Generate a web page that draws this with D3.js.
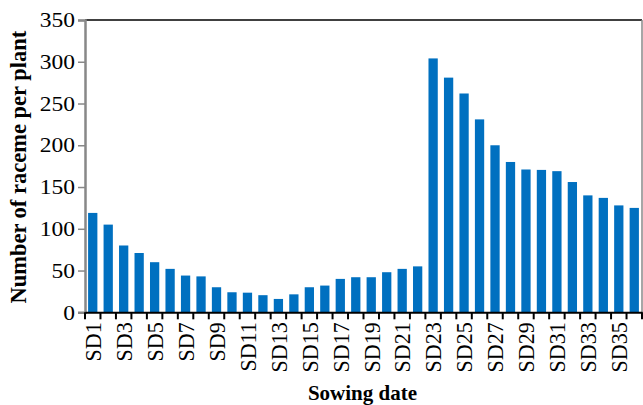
<!DOCTYPE html>
<html><head><meta charset="utf-8">
<script src="https://cdn.jsdelivr.net/npm/d3@7"></script>
<style>body{margin:0;background:#fff}svg{display:block}svg text{font-family:'Liberation Serif','Times New Roman',serif}</style>
</head><body>
<svg id="c" width="643" height="405"></svg>
<script>
const categories = Array.from({length:36},(_,i)=>"SD"+(i+1));
const values = [119,105,80,71,60,52,44,43,30,24,23.5,20.5,16,21.5,30,32,40,42,42,48,52,55,304,281,262,231,200,180,171,170.5,169,156,140,137,128,125];
const yTicks = [0,50,100,150,200,250,300,350];

const svg = d3.select("#c");
const L=85, R=642, T=20, B=312.3;
const x = d3.scaleBand().domain(categories).range([L,R]).paddingInner(0.4).paddingOuter(0.2);
const y = d3.scaleLinear().domain([0,350]).range([B,T]);
const font = "Liberation Serif";

// bars
svg.append("g").selectAll("rect").data(values).join("rect")
  .attr("x",(d,i)=>x(categories[i]))
  .attr("y",d=>y(d))
  .attr("width",x.bandwidth())
  .attr("height",d=>B-y(d))
  .attr("fill","#0070C0");

// top & right border
svg.append("line").attr("x1",L).attr("x2",R).attr("y1",T).attr("y2",T).attr("stroke","#000").attr("stroke-width",1.5);
svg.append("line").attr("x1",R).attr("x2",R).attr("y1",T).attr("y2",B).attr("stroke","#888").attr("stroke-width",1.5);

// y axis
const ya = svg.append("g").attr("transform",`translate(${L},0)`)
  .call(d3.axisLeft(y).tickValues(yTicks).tickSize(7).tickPadding(6));
ya.attr("font-family",font).attr("font-size",21);
ya.select(".domain").attr("stroke","#888").attr("stroke-width",2.5);
ya.selectAll(".tick line").attr("stroke","#888").attr("stroke-width",1.5);
ya.selectAll("text").style("font-family",font).attr("font-size",21).attr("fill","#000")
  .attr("x",0).attr("transform","translate(-10,0) scale(1.12,1)");

// x axis
const xa = svg.append("g").attr("transform",`translate(0,${B})`)
  .call(d3.axisBottom(x).tickSize(0).tickFormat((d,i)=> i%2===0 ? d : ""));
xa.attr("font-family",font).attr("font-size",22);
xa.select(".domain").attr("stroke","#000").attr("stroke-width",2);
xa.selectAll("text").style("font-family",font).attr("font-size",22).attr("fill","#000")
  .attr("transform","scale(1.08,1) rotate(-90)").attr("text-anchor","end").attr("dy","0.35em").attr("x",-10).attr("y",0);
// boundary ticks
const step = x.step();
const bounds = d3.range(categories.length+1).map(i=> x(categories[0]) - x.paddingInner()*step/2 + i*step);
svg.append("g").selectAll("line").data(bounds).join("line")
  .attr("x1",d=>d).attr("x2",d=>d).attr("y1",B).attr("y2",B+7)
  .attr("stroke","#000").attr("stroke-width",2);

// titles
svg.append("text").attr("x",(L+R)/2-1).attr("y",400).attr("text-anchor","middle")
  .style("font-family",font).attr("font-weight","bold").attr("font-size",21).text("Sowing date");
svg.append("text").attr("transform",`translate(26,${(T+B)/2+1}) rotate(-90)`).attr("text-anchor","middle")
  .style("font-family",font).attr("font-weight","bold").attr("font-size",22.5).text("Number of raceme per plant");
</script>
</body></html>
